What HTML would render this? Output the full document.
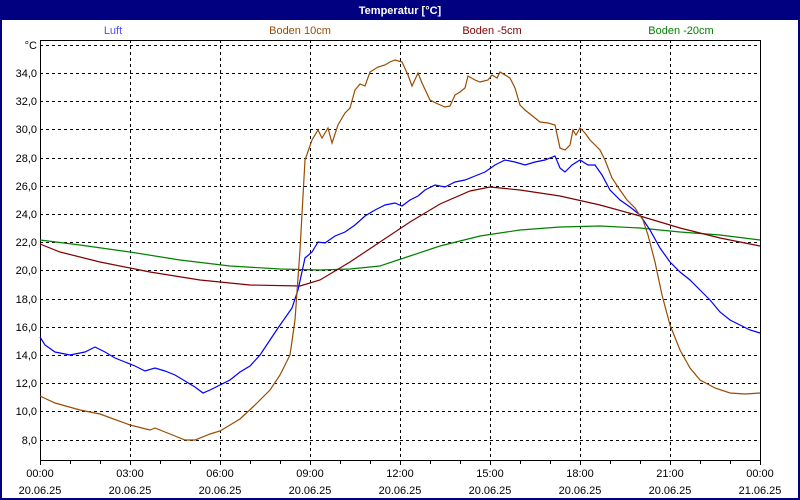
<!DOCTYPE html>
<html><head><meta charset="utf-8"><style>
body{margin:0;width:800px;height:500px;overflow:hidden;background:#fff}
svg{display:block}
text{font-family:"Liberation Sans",sans-serif;font-size:11px}
</style></head><body>
<svg width="800" height="500" xmlns="http://www.w3.org/2000/svg">
<rect x="0" y="0" width="800" height="500" fill="#000080"/>
<rect x="2" y="20" width="796" height="478" fill="#fff"/>
<text x="400" y="14" fill="#fff" font-weight="bold" text-anchor="middle">Temperatur [°C]</text>
<g text-anchor="middle">
<text x="113" y="34" fill="#5050ff">Luft</text>
<text x="300" y="34" fill="#994c00">Boden 10cm</text>
<text x="492" y="34" fill="#800000">Boden -5cm</text>
<text x="681" y="34" fill="#008000">Boden -20cm</text>
</g>
<g stroke="#000" stroke-dasharray="3,3" stroke-width="1">
<path d="M40 45.5H760M40 73.5H760M40 101.5H760M40 129.5H760M40 158.5H760M40 186.5H760M40 214.5H760M40 242.5H760M40 270.5H760M40 299.5H760M40 327.5H760M40 355.5H760M40 383.5H760M40 411.5H760M40 440.5H760"/>
<path d="M130.5 40V460M220.5 40V460M310.5 40V460M400.5 40V460M490.5 40V460M580.5 40V460M670.5 40V460"/>
</g>
<rect x="40.5" y="40.5" width="720" height="420" fill="none" stroke="#000"/>
<g stroke="#000"><path d="M40.5 460v5M70.5 460v4M100.5 460v4M130.5 460v5M160.5 460v4M190.5 460v4M220.5 460v5M250.5 460v4M280.5 460v4M310.5 460v5M340.5 460v4M370.5 460v4M400.5 460v5M430.5 460v4M460.5 460v4M490.5 460v5M520.5 460v4M550.5 460v4M580.5 460v5M610.5 460v4M640.5 460v4M670.5 460v5M700.5 460v4M730.5 460v4M760.5 460v5"/></g>
<g text-anchor="end" fill="#000">
<text x="37" y="49">°C</text>
<text x="37" y="77">34,0</text><text x="37" y="105">32,0</text><text x="37" y="133">30,0</text>
<text x="37" y="162">28,0</text><text x="37" y="190">26,0</text><text x="37" y="218">24,0</text>
<text x="37" y="246">22,0</text><text x="37" y="274">20,0</text><text x="37" y="303">18,0</text>
<text x="37" y="331">16,0</text><text x="37" y="359">14,0</text><text x="37" y="387">12,0</text>
<text x="37" y="415">10,0</text><text x="37" y="444">8,0</text>
</g>
<g text-anchor="middle" fill="#000">
<text x="40" y="477">00:00</text><text x="130" y="477">03:00</text><text x="220" y="477">06:00</text><text x="310" y="477">09:00</text><text x="400" y="477">12:00</text><text x="490" y="477">15:00</text><text x="580" y="477">18:00</text><text x="670" y="477">21:00</text><text x="760" y="477">00:00</text>
<text x="40" y="494">20.06.25</text><text x="130" y="494">20.06.25</text><text x="220" y="494">20.06.25</text><text x="310" y="494">20.06.25</text><text x="400" y="494">20.06.25</text><text x="490" y="494">20.06.25</text><text x="580" y="494">20.06.25</text><text x="670" y="494">20.06.25</text><text x="760" y="494">21.06.25</text>
</g>
<g fill="none" stroke-width="1.2">
<polyline stroke="#008000" points="40,240 80,245 130,252 180,260 230,266 280,269 320,270 350,269 380,266 410,256 440,246 480,236 520,230 560,227 600,226 640,228 680,232 720,235 760,240"/>
<polyline stroke="#800000" points="40,244 60,252 100,262 150,272 200,280 250,285 300,286 320,280 350,262 380,242 410,222 440,204 470,191 490,187 520,190 560,196 600,205 640,216 680,228 720,238 760,246"/>
<polyline stroke="#0000ff" points="40,337 45,345 55,352 70,355 85,352 95,347 105,352 115,358 125,362 135,366 145,371 155,368 165,371 175,375 185,381 195,387 203,393 210,390 220,385 230,380 240,372 250,366 260,355 270,340 278,328 285,318 292,308 298,290 305,258 312,252 318,242 325,243 335,236 345,232 355,225 365,216 375,210 385,205 395,203 402,206 410,200 418,196 425,190 435,185 445,187 455,182 465,180 475,176 485,172 495,165 505,160 515,162 525,165 535,162 545,160 555,156 560,168 565,172 572,165 580,160 588,165 595,165 602,175 610,190 620,200 630,207 640,215 650,230 660,248 670,262 680,272 690,280 700,290 710,300 720,312 730,320 740,325 750,330 760,333"/>
<polyline stroke="#994c00" points="40,396 55,403 80,410 100,414 130,425 150,430 155,428 170,434 185,440 195,440 210,434 220,431 240,419 255,405 270,390 280,375 290,355 295,320 300,250 305,160 312,140 318,130 322,138 328,128 332,143 338,125 345,113 350,108 355,90 360,84 365,86 370,72 378,67 385,65 390,62 395,60 402,62 408,75 412,86 418,73 422,83 430,100 438,104 445,107 450,106 455,95 460,92 465,88 468,76 475,80 480,82 488,80 492,75 497,78 500,72 505,75 510,78 515,88 520,105 525,110 530,114 535,118 540,122 548,123 555,125 560,148 565,150 570,145 573,130 576,135 580,128 585,133 590,140 600,150 605,160 612,178 620,190 627,200 635,208 643,220 648,235 655,262 662,295 670,325 680,350 690,368 700,380 715,388 730,393 745,394 760,393"/>
</g>
</svg>
</body></html>
